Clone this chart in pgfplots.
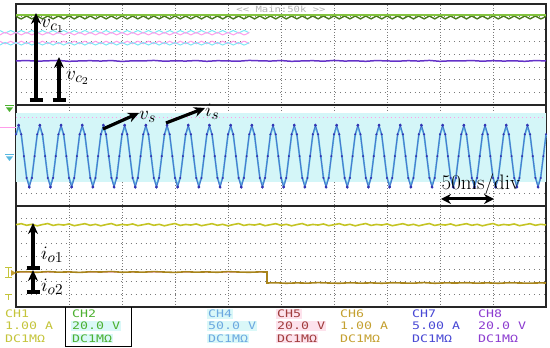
\documentclass[border=0pt]{standalone}
\usepackage{pgfplots}
\pgfplotsset{compat=1.18}
\usepackage{pgfplotstable}
\usepackage{fontspec}
\setmonofont{DejaVu Sans Mono}
\usepackage{graphicx}
\usetikzlibrary{arrows.meta}
\definecolor{vcone}{HTML}{84C440}
\definecolor{vconedark}{HTML}{4A7A1C}
\definecolor{vctwo}{HTML}{6432C8}
\definecolor{vsc}{HTML}{4A70CC}
\definecolor{vsdot}{HTML}{3434B4}
\definecolor{isc}{HTML}{58B8E0}
\definecolor{bandc}{HTML}{D4F6F8}
\definecolor{ioone}{HTML}{C4C424}
\definecolor{iotwo}{HTML}{A8841C}
\definecolor{gridc}{HTML}{7A7A7A}
\definecolor{ch1c}{HTML}{C4C43A}
\definecolor{ch2c}{HTML}{4CB030}
\definecolor{ch4c}{HTML}{6CA8E0}
\definecolor{ch5c}{HTML}{A03C3C}
\definecolor{ch6c}{HTML}{C4A030}
\definecolor{ch7c}{HTML}{4848D4}
\definecolor{ch8c}{HTML}{8C3CD0}
\definecolor{pinkc}{HTML}{FF9CEA}
\definecolor{cyanc}{HTML}{7CE8F6}
\definecolor{pinkbg}{HTML}{FDE2EC}
\definecolor{cyanbg}{HTML}{DAF8F8}
\newcommand{\cht}[1]{\scalebox{1.28}[1]{\fontsize{10.4}{10.4}\selectfont\ttfamily #1}}
\newcommand{\lab}[2]{\scalebox{1.9}{$#1_{\hbox{\scalebox{0.8}{$#2$}}}$}}

\pgfplotstableread[row sep=\\]{
t vs is\\
0 13.68 13.62\\ 2.5 14.40 14.32\\ 5 13.68 13.62\\ 7.5 11.95 11.95\\ 10 10.22 10.28\\ 12.5 9.50 9.58\\ 15 10.22 10.28\\ 17.5 11.95 11.95\\
20 13.68 13.62\\ 22.5 14.40 14.32\\ 25 13.68 13.62\\ 27.5 11.95 11.95\\ 30 10.22 10.28\\ 32.5 9.50 9.58\\ 35 10.22 10.28\\ 37.5 11.95 11.95\\
40 13.68 13.62\\ 42.5 14.40 14.32\\ 45 13.68 13.62\\ 47.5 11.95 11.95\\ 50 10.22 10.28\\ 52.5 9.50 9.58\\ 55 10.22 10.28\\ 57.5 11.95 11.95\\
60 13.68 13.62\\ 62.5 14.40 14.32\\ 65 13.68 13.62\\ 67.5 11.95 11.95\\ 70 10.22 10.28\\ 72.5 9.50 9.58\\ 75 10.22 10.28\\ 77.5 11.95 11.95\\
80 13.68 13.62\\ 82.5 14.40 14.32\\ 85 13.68 13.62\\ 87.5 11.95 11.95\\ 90 10.22 10.28\\ 92.5 9.50 9.58\\ 95 10.22 10.28\\ 97.5 11.95 11.95\\
100 13.68 13.62\\ 102.5 14.40 14.32\\ 105 13.68 13.62\\ 107.5 11.95 11.95\\ 110 10.22 10.28\\ 112.5 9.50 9.58\\ 115 10.22 10.28\\ 117.5 11.95 11.95\\
120 13.68 13.62\\ 122.5 14.40 14.32\\ 125 13.68 13.62\\ 127.5 11.95 11.95\\ 130 10.22 10.28\\ 132.5 9.50 9.58\\ 135 10.22 10.28\\ 137.5 11.95 11.95\\
140 13.68 13.62\\ 142.5 14.40 14.32\\ 145 13.68 13.62\\ 147.5 11.95 11.95\\ 150 10.22 10.28\\ 152.5 9.50 9.58\\ 155 10.22 10.28\\ 157.5 11.95 11.95\\
160 13.68 13.62\\ 162.5 14.40 14.32\\ 165 13.68 13.62\\ 167.5 11.95 11.95\\ 170 10.22 10.28\\ 172.5 9.50 9.58\\ 175 10.22 10.28\\ 177.5 11.95 11.95\\
180 13.68 13.62\\ 182.5 14.40 14.32\\ 185 13.68 13.62\\ 187.5 11.95 11.95\\ 190 10.22 10.28\\ 192.5 9.50 9.58\\ 195 10.22 10.28\\ 197.5 11.95 11.95\\
200 13.68 13.62\\ 202.5 14.40 14.32\\ 205 13.68 13.62\\ 207.5 11.95 11.95\\ 210 10.22 10.28\\ 212.5 9.50 9.58\\ 215 10.22 10.28\\ 217.5 11.95 11.95\\
220 13.68 13.62\\ 222.5 14.40 14.32\\ 225 13.68 13.62\\ 227.5 11.95 11.95\\ 230 10.22 10.28\\ 232.5 9.50 9.58\\ 235 10.22 10.28\\ 237.5 11.95 11.95\\
240 13.68 13.62\\ 242.5 14.40 14.32\\ 245 13.68 13.62\\ 247.5 11.95 11.95\\ 250 10.22 10.28\\ 252.5 9.50 9.58\\ 255 10.22 10.28\\ 257.5 11.95 11.95\\
260 13.68 13.62\\ 262.5 14.40 14.32\\ 265 13.68 13.62\\ 267.5 11.95 11.95\\ 270 10.22 10.28\\ 272.5 9.50 9.58\\ 275 10.22 10.28\\ 277.5 11.95 11.95\\
280 13.68 13.62\\ 282.5 14.40 14.32\\ 285 13.68 13.62\\ 287.5 11.95 11.95\\ 290 10.22 10.28\\ 292.5 9.50 9.58\\ 295 10.22 10.28\\ 297.5 11.95 11.95\\
300 13.68 13.62\\ 302.5 14.40 14.32\\ 305 13.68 13.62\\ 307.5 11.95 11.95\\ 310 10.22 10.28\\ 312.5 9.50 9.58\\ 315 10.22 10.28\\ 317.5 11.95 11.95\\
320 13.68 13.62\\ 322.5 14.40 14.32\\ 325 13.68 13.62\\ 327.5 11.95 11.95\\ 330 10.22 10.28\\ 332.5 9.50 9.58\\ 335 10.22 10.28\\ 337.5 11.95 11.95\\
340 13.68 13.62\\ 342.5 14.40 14.32\\ 345 13.68 13.62\\ 347.5 11.95 11.95\\ 350 10.22 10.28\\ 352.5 9.50 9.58\\ 355 10.22 10.28\\ 357.5 11.95 11.95\\
360 13.68 13.62\\ 362.5 14.40 14.32\\ 365 13.68 13.62\\ 367.5 11.95 11.95\\ 370 10.22 10.28\\ 372.5 9.50 9.58\\ 375 10.22 10.28\\ 377.5 11.95 11.95\\
380 13.68 13.62\\ 382.5 14.40 14.32\\ 385 13.68 13.62\\ 387.5 11.95 11.95\\ 390 10.22 10.28\\ 392.5 9.50 9.58\\ 395 10.22 10.28\\ 397.5 11.95 11.95\\
400 13.68 13.62\\ 402.5 14.40 14.32\\ 405 13.68 13.62\\ 407.5 11.95 11.95\\ 410 10.22 10.28\\ 412.5 9.50 9.58\\ 415 10.22 10.28\\ 417.5 11.95 11.95\\
420 13.68 13.62\\ 422.5 14.40 14.32\\ 425 13.68 13.62\\ 427.5 11.95 11.95\\ 430 10.22 10.28\\ 432.5 9.50 9.58\\ 435 10.22 10.28\\ 437.5 11.95 11.95\\
440 13.68 13.62\\ 442.5 14.40 14.32\\ 445 13.68 13.62\\ 447.5 11.95 11.95\\ 450 10.22 10.28\\ 452.5 9.50 9.58\\ 455 10.22 10.28\\ 457.5 11.95 11.95\\
460 13.68 13.62\\ 462.5 14.40 14.32\\ 465 13.68 13.62\\ 467.5 11.95 11.95\\ 470 10.22 10.28\\ 472.5 9.50 9.58\\ 475 10.22 10.28\\ 477.5 11.95 11.95\\
480 13.68 13.62\\ 482.5 14.40 14.32\\ 485 13.68 13.62\\ 487.5 11.95 11.95\\ 490 10.22 10.28\\ 492.5 9.50 9.58\\ 495 10.22 10.28\\ 497.5 11.95 11.95\\
500 13.68 13.62\\
}\sinetab

\begin{document}
\begin{tikzpicture}
\useasboundingbox (0,0) rectangle (550bp,348bp);
\begin{axis}[
  at={(16bp,41bp)}, anchor=south west,
  scale only axis, width=530bp, height=303bp,
  xmin=0, xmax=500, ymin=0, ymax=24,
  xtick={50,100,...,450}, ytick={1,2,...,23},
  xticklabels={}, yticklabels={}, major tick length=0pt,
  grid=major,
  every axis x grid/.style={gridc, line width=0.8pt, dash pattern=on 0.8pt off 1.9pt},
  every axis y grid/.style={gridc, line width=0.8pt, dash pattern=on 0.8pt off 4.2pt},
  axis line style={black!85, line width=1.1pt},
  clip=false,
]
% light band behind the sine traces
\addplot[draw=none, fill=bandc] coordinates {(0,9.9) (500,9.9) (500,15.4) (0,15.4)} -- cycle;
% pink reference line in panel 2
\addplot[pinkc, line width=0.9pt, dash pattern=on 1pt off 3pt] coordinates {(0,15) (500,15)};
\addplot[pinkc, line width=1pt] coordinates {(-15,14.2) (0,14.2)};
% faint pink / cyan rippled traces in panel 1
\addplot[cyanc, line width=1pt, smooth] coordinates {
(-15,21.90) (-10,21.70) (-5,21.90) (0,21.70) (5,21.90) (10,21.70) (15,21.90) (20,21.70) (25,21.90) (30,21.70)
(35,21.90) (40,21.70) (45,21.90) (50,21.70) (55,21.90) (60,21.70) (65,21.90) (70,21.70) (75,21.90) (80,21.70)
(85,21.90) (90,21.70) (95,21.90) (100,21.70) (105,21.90) (110,21.70) (115,21.90) (120,21.70) (125,21.90) (130,21.70)
(135,21.90) (140,21.70) (145,21.90) (150,21.70) (155,21.90) (160,21.70) (165,21.90) (170,21.70) (175,21.90) (180,21.70)
(185,21.90) (190,21.70) (195,21.90) (200,21.70) (205,21.90) (210,21.70) (215,21.90) (220,21.70)};
\addplot[pinkc, line width=1pt, smooth] coordinates {
(-15,21.55) (-10,21.75) (-5,21.55) (0,21.75) (5,21.55) (10,21.75) (15,21.55) (20,21.75) (25,21.55) (30,21.75)
(35,21.55) (40,21.75) (45,21.55) (50,21.75) (55,21.55) (60,21.75) (65,21.55) (70,21.75) (75,21.55) (80,21.75)
(85,21.55) (90,21.75) (95,21.55) (100,21.75) (105,21.55) (110,21.75) (115,21.55) (120,21.75) (125,21.55) (130,21.75)
(135,21.55) (140,21.75) (145,21.55) (150,21.75) (155,21.55) (160,21.75) (165,21.55) (170,21.75) (175,21.55) (180,21.75)
(185,21.55) (190,21.75) (195,21.55) (200,21.75) (205,21.55) (210,21.75) (215,21.55) (220,21.75)};
\addplot[pinkc, line width=1pt, smooth] coordinates {
(-15,21.05) (-10,20.85) (-5,21.05) (0,20.85) (5,21.05) (10,20.85) (15,21.05) (20,20.85) (25,21.05) (30,20.85)
(35,21.05) (40,20.85) (45,21.05) (50,20.85) (55,21.05) (60,20.85) (65,21.05) (70,20.85) (75,21.05) (80,20.85)
(85,21.05) (90,20.85) (95,21.05) (100,20.85) (105,21.05) (110,20.85) (115,21.05) (120,20.85) (125,21.05) (130,20.85)
(135,21.05) (140,20.85) (145,21.05) (150,20.85) (155,21.05) (160,20.85) (165,21.05) (170,20.85) (175,21.05) (180,20.85)
(185,21.05) (190,20.85) (195,21.05) (200,20.85) (205,21.05) (210,20.85) (215,21.05) (220,20.85)};
\addplot[cyanc, line width=1pt, smooth] coordinates {
(-15,20.75) (-10,20.95) (-5,20.75) (0,20.95) (5,20.75) (10,20.95) (15,20.75) (20,20.95) (25,20.75) (30,20.95)
(35,20.75) (40,20.95) (45,20.75) (50,20.95) (55,20.75) (60,20.95) (65,20.75) (70,20.95) (75,20.75) (80,20.95)
(85,20.75) (90,20.95) (95,20.75) (100,20.95) (105,20.75) (110,20.95) (115,20.75) (120,20.95) (125,20.75) (130,20.95)
(135,20.75) (140,20.95) (145,20.75) (150,20.95) (155,20.75) (160,20.95) (165,20.75) (170,20.95) (175,20.75) (180,20.95)
(185,20.75) (190,20.95) (195,20.75) (200,20.95) (205,20.75) (210,20.95) (215,20.75) (220,20.95)};
% v_c1 (green with ripple)
\addplot[vconedark, line width=1.4pt, smooth] coordinates {
(0,23.05) (5,22.82) (10,23.05) (15,22.82) (20,23.05) (25,22.82) (30,23.05) (35,22.82) (40,23.05) (45,22.82)
(50,23.05) (55,22.82) (60,23.05) (65,22.82) (70,23.05) (75,22.82) (80,23.05) (85,22.82) (90,23.05) (95,22.82)
(100,23.05) (105,22.82) (110,23.05) (115,22.82) (120,23.05) (125,22.82) (130,23.05) (135,22.82) (140,23.05) (145,22.82)
(150,23.05) (155,22.82) (160,23.05) (165,22.82) (170,23.05) (175,22.82) (180,23.05) (185,22.82) (190,23.05) (195,22.82)
(200,23.05) (205,22.82) (210,23.05) (215,22.82) (220,23.05) (225,22.82) (230,23.05) (235,22.82) (240,23.05) (245,22.82)
(250,23.05) (255,22.82) (260,23.05) (265,22.82) (270,23.05) (275,22.82) (280,23.05) (285,22.82) (290,23.05) (295,22.82)
(300,23.05) (305,22.82) (310,23.05) (315,22.82) (320,23.05) (325,22.82) (330,23.05) (335,22.82) (340,23.05) (345,22.82)
(350,23.05) (355,22.82) (360,23.05) (365,22.82) (370,23.05) (375,22.82) (380,23.05) (385,22.82) (390,23.05) (395,22.82)
(400,23.05) (405,22.82) (410,23.05) (415,22.82) (420,23.05) (425,22.82) (430,23.05) (435,22.82) (440,23.05) (445,22.82)
(450,23.05) (455,22.82) (460,23.05) (465,22.82) (470,23.05) (475,22.82) (480,23.05) (485,22.82) (490,23.05) (495,22.82)
(500,23.05)};
\addplot[vcone, line width=2pt] coordinates {(0,23.10) (500,23.10)};
% v_c2 (purple)
\addplot[vctwo, line width=1.5pt] coordinates {
(0,19.49) (10,19.52) (20,19.47) (30,19.50) (40,19.53) (50,19.46) (60,19.49) (70,19.51) (80,19.48) (90,19.52)
(100,19.45) (110,19.50) (120,19.49) (130,19.53) (140,19.47) (150,19.50) (160,19.48) (170,19.52) (180,19.46) (190,19.51)
(200,19.49) (210,19.47) (220,19.53) (230,19.50) (240,19.48) (250,19.52) (260,19.46) (270,19.49) (280,19.51) (290,19.47)
(300,19.53) (310,19.48) (320,19.50) (330,19.46) (340,19.52) (350,19.49) (360,19.47) (370,19.51) (380,19.48) (390,19.53)
(400,19.46) (410,19.50) (420,19.49) (430,19.52) (440,19.47) (450,19.51) (460,19.48) (470,19.50) (480,19.46) (490,19.52)
(500,19.49)};
% i_s and v_s
\addplot[isc, line width=1.7pt] table[x=t, y=is] {\sinetab};
\addplot[vsc, line width=0.8pt, mark=*, mark size=0.6pt, mark options={fill=vsdot, draw=vsdot}] table[x=t, y=vs] {\sinetab};
\addplot[draw=none, mark=*, mark size=1.2pt, mark repeat=4, mark phase=2, mark options={fill=vsdot, draw=vsdot}] table[x=t, y=vs] {\sinetab};
% i_o1 (yellow)
\addplot[ioone, line width=1.6pt] coordinates {
(0,6.52) (5,6.60) (10,6.47) (15,6.55) (20,6.43) (25,6.53) (30,6.61) (35,6.46) (40,6.54) (45,6.49)
(50,6.58) (55,6.44) (60,6.52) (65,6.60) (70,6.47) (75,6.55) (80,6.43) (85,6.53) (90,6.61) (95,6.46)
(100,6.54) (105,6.49) (110,6.58) (115,6.44) (120,6.52) (125,6.60) (130,6.47) (135,6.55) (140,6.43) (145,6.53)
(150,6.61) (155,6.46) (160,6.54) (165,6.49) (170,6.58) (175,6.44) (180,6.52) (185,6.60) (190,6.47) (195,6.55)
(200,6.43) (205,6.53) (210,6.61) (215,6.46) (220,6.54) (225,6.49) (230,6.58) (235,6.44) (240,6.52) (245,6.60)
(250,6.47) (255,6.55) (260,6.43) (265,6.53) (270,6.61) (275,6.46) (280,6.54) (285,6.49) (290,6.58) (295,6.44)
(300,6.52) (305,6.60) (310,6.47) (315,6.55) (320,6.43) (325,6.53) (330,6.61) (335,6.46) (340,6.54) (345,6.49)
(350,6.58) (355,6.44) (360,6.52) (365,6.60) (370,6.47) (375,6.55) (380,6.43) (385,6.53) (390,6.61) (395,6.46)
(400,6.54) (405,6.49) (410,6.58) (415,6.44) (420,6.52) (425,6.60) (430,6.47) (435,6.55) (440,6.43) (445,6.53)
(450,6.61) (455,6.46) (460,6.54) (465,6.49) (470,6.58) (475,6.44) (480,6.52) (485,6.60) (490,6.47) (495,6.55)
(500,6.50)};
% i_o2 (olive, with load step)
\addplot[pinkc!60, line width=1pt] coordinates {(0,2.70) (236.8,2.70)};
\addplot[iotwo, line width=1.6pt] coordinates {
(0,2.77) (10,2.79) (20,2.75) (30,2.80) (40,2.76) (50,2.78) (60,2.74) (70,2.79) (80,2.77) (90,2.81)
(100,2.75) (110,2.78) (120,2.76) (130,2.80) (140,2.77) (150,2.74) (160,2.79) (170,2.76) (180,2.78) (190,2.75)
(200,2.80) (210,2.77) (220,2.75) (230,2.78) (236.8,2.77) (236.8,1.90)
(245,1.92) (255,1.88) (265,1.91) (275,1.89) (285,1.93) (295,1.90) (305,1.88) (315,1.92) (325,1.89) (335,1.91)
(345,1.88) (355,1.92) (365,1.90) (375,1.89) (385,1.93) (395,1.88) (405,1.91) (415,1.90) (425,1.92) (435,1.89)
(445,1.91) (455,1.88) (465,1.92) (475,1.90) (485,1.89) (495,1.91) (500,1.90)};
% panel separators
\draw[black!85, line width=1.1pt] (axis cs:0,8) -- (axis cs:500,8);
\draw[black!85, line width=1.1pt] (axis cs:0,16) -- (axis cs:500,16);
\end{axis}

\begin{scope}[x=1bp,y=-1bp,shift={(0,348bp)}]
% header text
\node[text=black!30, inner sep=0] at (281,9) {\scalebox{1.25}[1]{\fontsize{8.5}{9}\selectfont\ttfamily << Main:50k >>}};
% left channel markers
\draw[ch2c, line width=1pt] (5,106) -- (14,106);
\fill[ch2c] (6,107.5) -- (13,107.5) -- (9.5,112) -- cycle;
\draw[isc, line width=1pt] (5,155) -- (14,155);
\fill[isc] (6,156.5) -- (13,156.5) -- (9.5,161) -- cycle;
\draw[ch1c, line width=1pt] (5,268) -- (12,268) (8.5,268) -- (8.5,278) (5,278) -- (12,278);
\fill[ch6c] (11,270) -- (16,273) -- (11,276) -- cycle;
\draw[ch1c, line width=1pt] (5,295) -- (12,295) (8.5,295) -- (8.5,300);
% annotations
\tikzset{bigarr/.style={line width=3.2bp, -{Stealth[length=11bp,width=10bp]}}}
\draw[bigarr] (36,100) -- (36,13);
\draw[line width=3.2bp] (29.5,100) -- (42.5,100);
\node[anchor=west, inner sep=0] at (41,26) {\lab{v}{c_1}};
\draw[bigarr] (59,100) -- (59,57);
\draw[line width=3.2bp] (52.5,100) -- (65.5,100);
\node[anchor=west, inner sep=0] at (66,78) {\lab{v}{c_2}};
\draw[bigarr] (103,129) -- (139,113);
\node[anchor=west, inner sep=0] at (139,117) {\lab{v}{s}};
\draw[bigarr] (166,123) -- (205,108);
\node[anchor=west, inner sep=0] at (205,112) {\lab{i}{s}};
\draw[line width=3bp, {Stealth[length=10bp,width=10bp]}-{Stealth[length=10bp,width=10bp]}] (441,199) -- (494,199);
\node at (481,184) {\fontsize{21}{23}\selectfont 50ms/div};
\draw[bigarr] (33,268) -- (33,223);
\draw[line width=3.2bp] (26.5,268) -- (39.5,268);
\node[anchor=west, inner sep=0] at (41,255) {\lab{i}{o1}};
\draw[bigarr] (33,292) -- (33,270);
\draw[line width=3.2bp] (26.5,292) -- (39.5,292);
\node[anchor=west, inner sep=0] at (41,287) {\lab{i}{o2}};
% channel box
\draw[black, line width=1pt] (65,307) -- (65,347) -- (131,347) -- (131,307);
% channel texts
\foreach \xx/\col/\a/\b in {5/ch1c/CH1/1.00 A, 340/ch6c/CH6/1.00 A, 412/ch7c/CH7/5.00 A, 478/ch8c/CH8/20.0 V}{
  \node[anchor=west, text=\col, inner sep=0] at (\xx,314) {\cht{\a}};
  \node[anchor=west, text=\col, inner sep=0] at (\xx,326) {\cht{\b}};
  \node[anchor=west, text=\col, inner sep=0] at (\xx,338.5) {\cht{DC1MΩ}};
}
\node[anchor=west, text=ch2c, inner sep=0] at (72,314) {\cht{CH2}};
\node[anchor=west, text=ch2c, fill=cyanbg, inner sep=0.8bp] at (71.2,326) {\cht{20.0 V}};
\node[anchor=west, text=ch2c, fill=cyanbg, inner sep=0.8bp] at (71.2,338.5) {\cht{DC1MΩ}};
\node[anchor=west, text=ch4c, fill=cyanbg, inner sep=0.8bp] at (207.2,314) {\cht{CH4}};
\node[anchor=west, text=ch4c, fill=cyanbg, inner sep=0.8bp] at (207.2,326) {\cht{50.0 V}};
\node[anchor=west, text=ch4c, fill=cyanbg, inner sep=0.8bp] at (207.2,338.5) {\cht{DC1MΩ}};
\node[anchor=west, text=ch5c, fill=pinkbg, inner sep=0.8bp] at (276.2,314) {\cht{CH5}};
\node[anchor=west, text=ch5c, fill=pinkbg, inner sep=0.8bp] at (276.2,326) {\cht{20.0 V}};
\node[anchor=west, text=ch5c, fill=pinkbg, inner sep=0.8bp] at (276.2,338.5) {\cht{DC1MΩ}};
\end{scope}
\end{tikzpicture}
\end{document}
